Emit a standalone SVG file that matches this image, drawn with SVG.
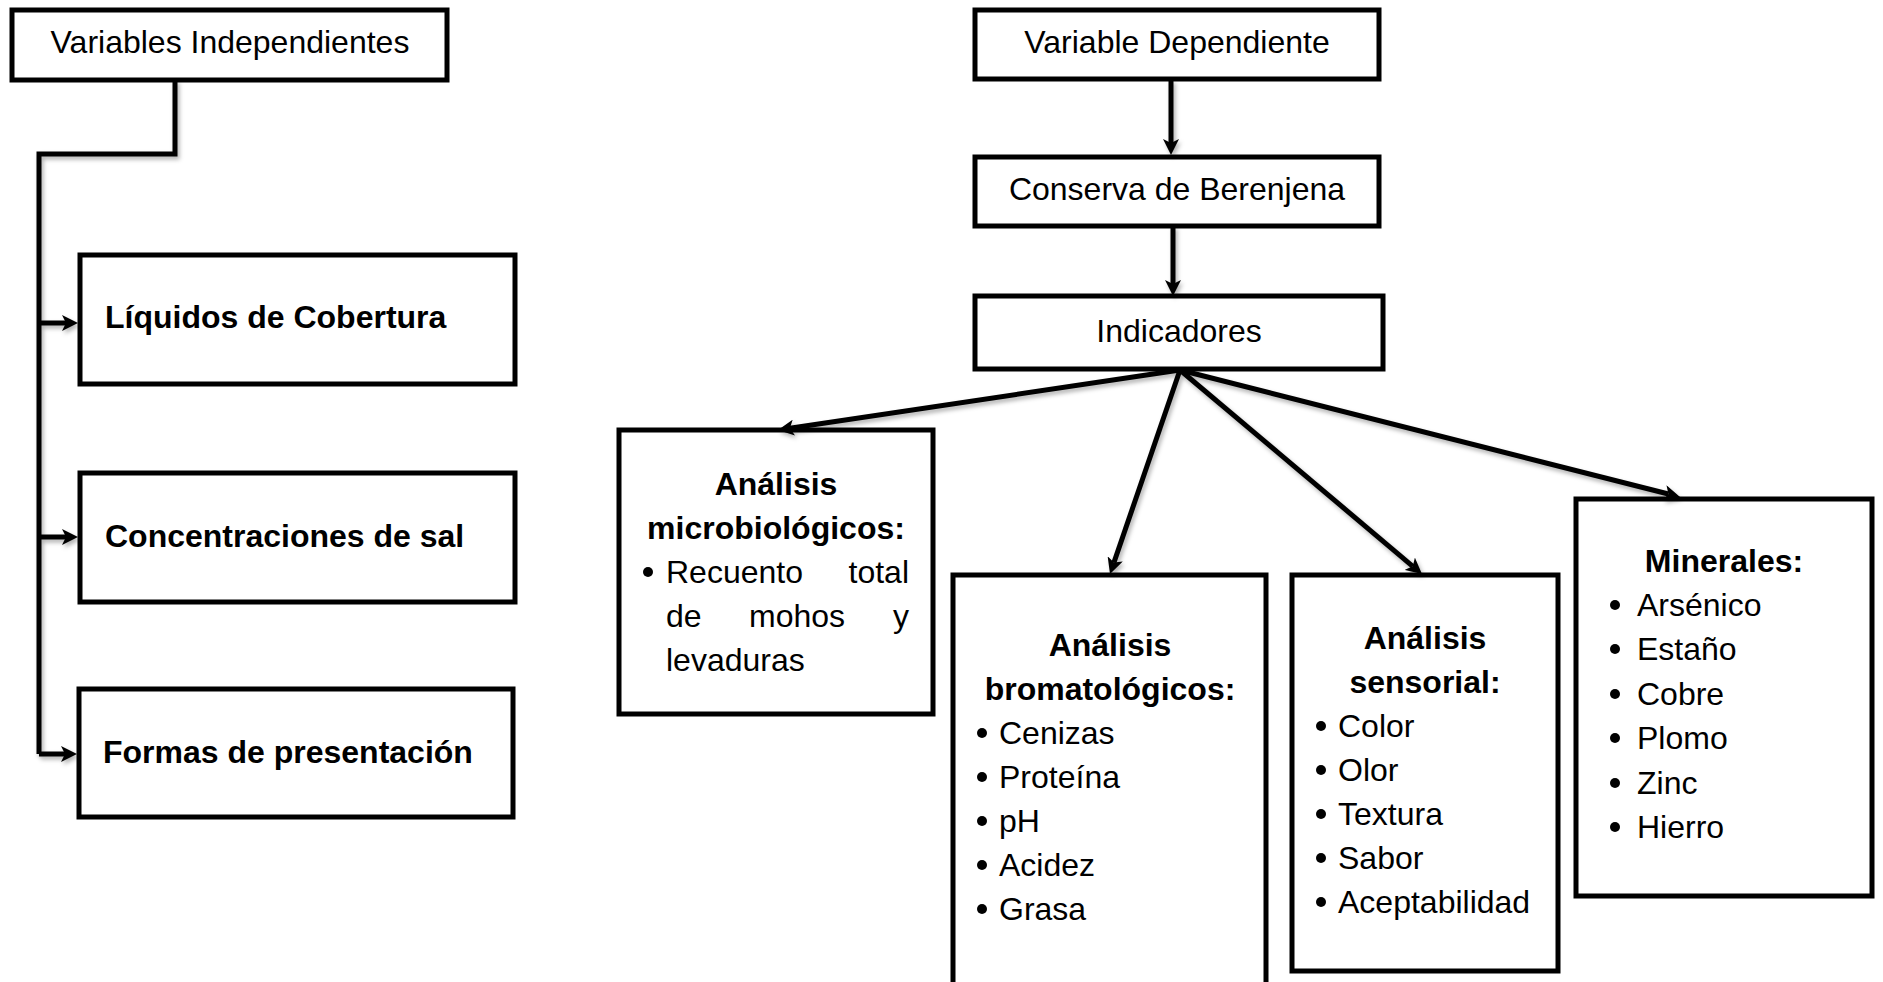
<svg xmlns="http://www.w3.org/2000/svg" width="1883" height="982" viewBox="0 0 1883 982">
<defs>
<style>
.box{fill:#fff;stroke:#000;stroke-width:5}
.t{font-family:"Liberation Sans",Arial,Helvetica,sans-serif;font-size:32px;fill:#000}
.b{font-weight:bold}
.c{text-anchor:middle}
.e{text-anchor:end}
.ln{fill:none;stroke:#000;stroke-width:5;stroke-linejoin:miter}
.arr{marker-end:url(#ah)}
.dot{fill:#000}
</style>
<marker id="ah" markerUnits="userSpaceOnUse" viewBox="0 0 16 16" markerWidth="16" markerHeight="16" refX="4" refY="8" orient="auto"><path d="M0,0 L16,8 L0,16 L4,8 z" fill="#000"/></marker>
<filter id="sh" filterUnits="userSpaceOnUse" x="0" y="0" width="1883" height="982"><feDropShadow dx="2" dy="3" stdDeviation="2" flood-color="#000" flood-opacity="0.3"/></filter>
</defs>
<rect width="1883" height="982" fill="#fff"/>

<g id="var-independientes">
<rect class="box" x="12" y="10" width="435" height="70"/>
<text class="t c" x="230" y="53">Variables Independientes</text>
</g>
<g id="liquidos">
<rect class="box" x="80" y="255" width="435" height="129"/>
<text class="t b" x="105" y="328">Líquidos de Cobertura</text>
</g>
<g id="concentraciones">
<rect class="box" x="80" y="473" width="435" height="129"/>
<text class="t b" x="105" y="547">Concentraciones de sal</text>
</g>
<g id="formas">
<rect class="box" x="79" y="689" width="434" height="128"/>
<text class="t b" x="103" y="763">Formas de presentación</text>
</g>

<g id="var-dependiente">
<rect class="box" x="975" y="10" width="404" height="69"/>
<text class="t c" x="1177" y="53">Variable Dependiente</text>
</g>
<g id="conserva">
<rect class="box" x="975" y="157" width="404" height="69"/>
<text class="t c" x="1177" y="200">Conserva de Berenjena</text>
</g>
<g id="indicadores">
<rect class="box" x="975" y="296" width="408" height="73"/>
<text class="t c" x="1179" y="342">Indicadores</text>
</g>

<g id="microbiologicos">
<rect class="box" x="619" y="430" width="314" height="284"/>
<text class="t b c" x="776" y="495">Análisis</text>
<text class="t b c" x="776" y="539">microbiológicos:</text>
<circle class="dot" cx="648" cy="572" r="5"/>
<text class="t" x="666" y="583">Recuento</text>
<text class="t e" x="909" y="583">total</text>
<text class="t" x="666" y="627">de</text>
<text class="t" x="749" y="627">mohos</text>
<text class="t e" x="909" y="627">y</text>
<text class="t" x="666" y="671">levaduras</text>
</g>

<g id="bromatologicos">
<rect class="box" x="953" y="575" width="313" height="430"/>
<text class="t b c" x="1110" y="656">Análisis</text>
<text class="t b c" x="1110" y="700">bromatológicos:</text>
<circle class="dot" cx="982" cy="733" r="5"/>
<text class="t" x="999" y="744">Cenizas</text>
<circle class="dot" cx="982" cy="777" r="5"/>
<text class="t" x="999" y="788">Proteína</text>
<circle class="dot" cx="982" cy="821" r="5"/>
<text class="t" x="999" y="832">pH</text>
<circle class="dot" cx="982" cy="865" r="5"/>
<text class="t" x="999" y="876">Acidez</text>
<circle class="dot" cx="982" cy="909" r="5"/>
<text class="t" x="999" y="920">Grasa</text>
</g>

<g id="sensorial">
<rect class="box" x="1292" y="575" width="266" height="396"/>
<text class="t b c" x="1425" y="649">Análisis</text>
<text class="t b c" x="1425" y="693">sensorial:</text>
<circle class="dot" cx="1321" cy="726" r="5"/>
<text class="t" x="1338" y="737">Color</text>
<circle class="dot" cx="1321" cy="770" r="5"/>
<text class="t" x="1338" y="781">Olor</text>
<circle class="dot" cx="1321" cy="814" r="5"/>
<text class="t" x="1338" y="825">Textura</text>
<circle class="dot" cx="1321" cy="858" r="5"/>
<text class="t" x="1338" y="869">Sabor</text>
<circle class="dot" cx="1321" cy="902" r="5"/>
<text class="t" x="1338" y="913">Aceptabilidad</text>
</g>

<g id="minerales">
<rect class="box" x="1576" y="499" width="296" height="397"/>
<text class="t b c" x="1724" y="572">Minerales:</text>
<circle class="dot" cx="1615" cy="605" r="5"/>
<text class="t" x="1637" y="616">Arsénico</text>
<circle class="dot" cx="1615" cy="649" r="5"/>
<text class="t" x="1637" y="660">Estaño</text>
<circle class="dot" cx="1615" cy="694" r="5"/>
<text class="t" x="1637" y="705">Cobre</text>
<circle class="dot" cx="1615" cy="738" r="5"/>
<text class="t" x="1637" y="749">Plomo</text>
<circle class="dot" cx="1615" cy="783" r="5"/>
<text class="t" x="1637" y="794">Zinc</text>
<circle class="dot" cx="1615" cy="827" r="5"/>
<text class="t" x="1637" y="838">Hierro</text>
</g>

<g id="connectors" filter="url(#sh)">
<path class="ln" d="M175,80 V154 H39 V754"/>
<path class="ln arr" d="M39,323 H66"/>
<path class="ln arr" d="M39,537 H66"/>
<path class="ln arr" d="M39,754 H65"/>
<path class="ln arr" d="M1171,80 V143"/>
<path class="ln arr" d="M1173,226 V284"/>
<path class="ln arr" d="M1180,370 L789.9,428.2"/>
<path class="ln arr" d="M1180,370 L1113.9,562.6"/>
<path class="ln arr" d="M1180,370 L1412.8,566.3"/>
<path class="ln arr" d="M1180,370 L1668.4,494"/>
</g>
</svg>
